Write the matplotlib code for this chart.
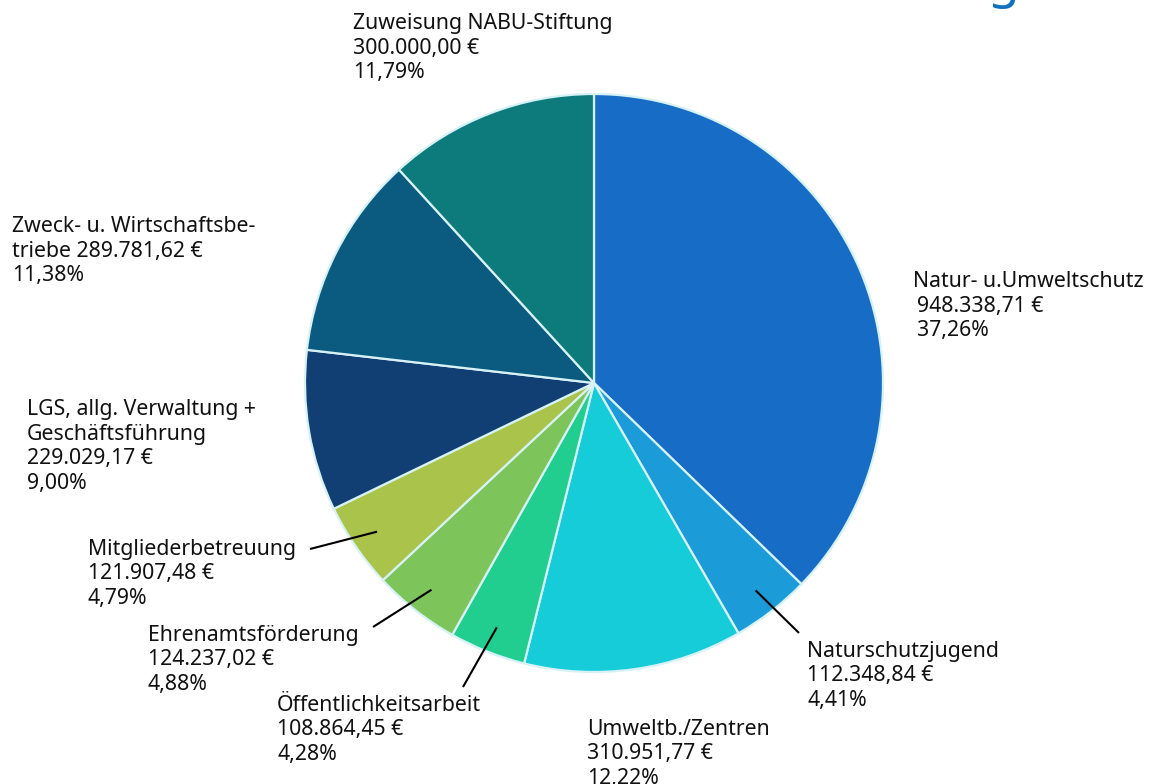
import matplotlib
matplotlib.use("Agg")
import matplotlib.pyplot as plt
import numpy as np

W, H = 1149, 784

categories = [
    "Natur- u.Umweltschutz",
    "Naturschutzjugend",
    "Umweltb./Zentren",
    "Öffentlichkeitsarbeit",
    "Ehrenamtsförderung",
    "Mitgliederbetreuung",
    "LGS, allg. Verwaltung + Geschäftsführung",
    "Zweck- u. Wirtschaftsbetriebe",
    "Zuweisung NABU-Stiftung",
]
amounts = [948338.71, 112348.84, 310951.77, 108864.45, 124237.02,
           121907.48, 229029.17, 289781.62, 300000.00]
colors = ["#176cc6", "#1b9bd7", "#16ccd8", "#21ce90", "#7dc55a",
          "#aac34a", "#113f74", "#0b5a80", "#0d7a7c"]

def fmt_de(v, dec=2):
    s = f"{v:,.{dec}f}"
    return s.replace(",", "X").replace(".", ",").replace("X", ".")

total = sum(amounts)
amount_txt = [fmt_de(a) + " €" for a in amounts]
pct_txt = [fmt_de(a / total * 100) + "%" for a in amounts]

# label name lines (how the category names are broken in the chart)
name_lines = [
    ["Natur- u.Umweltschutz"],
    ["Naturschutzjugend"],
    ["Umweltb./Zentren"],
    ["Öffentlichkeitsarbeit"],
    ["Ehrenamtsförderung"],
    ["Mitgliederbetreuung"],
    ["LGS, allg. Verwaltung +", "Geschäftsführung"],
    ["Zweck- u. Wirtschaftsbe-"],
    ["Zuweisung NABU-Stiftung"],
]

FONT = ["Noto Sans", "DejaVu Sans"]
plt.rcParams["font.family"] = FONT

fig = plt.figure(figsize=(W / 100, H / 100), dpi=100)
ax = fig.add_axes([0, 0, 1, 1])

def Y(py):
    return H - py

cx, cy, R = 594, 383, 289
wedges, _ = ax.pie(amounts, colors=colors, startangle=90, counterclock=False,
                   center=(cx, Y(cy)), radius=R,
                   wedgeprops=dict(edgecolor="#d6f2f6", linewidth=1.6))
ax.set_xlim(0, W)
ax.set_ylim(0, H)
ax.set_aspect("equal")
ax.axis("off")

LS = 24.5
FS = 15.3

def block(x, yb, lines, indent_rest=0):
    for i, t in enumerate(lines):
        xx = x + (indent_rest if i > 0 else 0)
        ax.text(xx, Y(yb + i * LS), t, fontsize=FS, ha="left", va="baseline",
                color="#111111")

# label positions (x left, baseline of first line)
layout = {
    0: (913, 287, 4),
    1: (807, 657, 0),
    2: (587, 735, 0),
    3: (277, 711, 0),
    4: (148, 641, 0),
    5: (88, 555, 0),
    6: (27, 415, 0),
    7: (12, 232, 0),
    8: (353, 29, 0),
}
for i in range(len(categories)):
    x, yb, ind = layout[i]
    if i == 7:
        lines = [name_lines[i][0], "triebe " + amount_txt[i], pct_txt[i]]
    else:
        lines = name_lines[i] + [amount_txt[i], pct_txt[i]]
    block(x, yb, lines, ind)

# leader lines: from inside the wedge to the label
leader_out = {1: (799, 633), 3: (463, 687), 4: (373, 627), 5: (310, 549)}
for i, (ox, oy) in leader_out.items():
    w = wedges[i]
    mid = np.deg2rad((w.theta1 + w.theta2) / 2)
    ix = cx + 0.91 * R * np.cos(mid)
    iy = Y(cy) + 0.91 * R * np.sin(mid)
    ax.plot([ix, ox], [iy, Y(oy)], color="black", lw=1.5, solid_capstyle="butt")

# cut-off heading fragment at top right
ax.text(987, Y(-3), "g", fontsize=37, fontweight="bold", color="#0f6fc0",
        ha="left", va="baseline")

fig.savefig("out.png", dpi=100, facecolor="white")
